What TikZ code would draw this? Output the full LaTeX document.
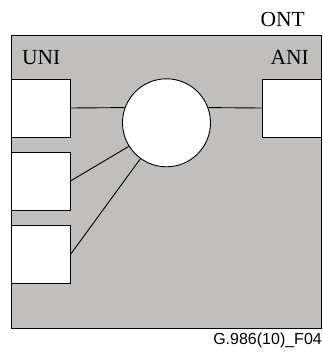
\documentclass[tikz,border=0pt]{standalone}
\usepackage{fontspec}
\setmainfont{Liberation Serif}
\setsansfont{Liberation Sans}
\definecolor{ontgray}{RGB}{192,191,190}

\begin{document}
\begin{tikzpicture}[x=1pt,y=-1pt,
  port/.style={draw,fill=white,line width=0.9pt,minimum width=59pt,minimum height=58pt,inner sep=0pt},
  lbl/.style={inner sep=0pt,font=\fontsize{21.5}{24}\selectfont}]
\useasboundingbox (0,0) rectangle (322,352);
\filldraw [fill=ontgray,line width=0.9pt] (11,35) rectangle (321,328);
\node [lbl,anchor=base east] (ont) at (305,27) {ONT};
\node [lbl,anchor=base west] (uni) at (22,65) {UNI};
\node [lbl,anchor=base east] (ani) at (309,65) {ANI};
\node [port] (U1) at (40.5,108) {};
\node [port] (U2) at (40.5,181) {};
\node [port] (U3) at (40.5,254.5) {};
\node [port] (A) at (291.5,108) {};
\node [draw,fill=white,circle,line width=0.9pt,minimum size=88pt,inner sep=0pt] (C) at (166.5,122.8) {};
\draw [line width=0.9pt](U1.east) -- (C.160);
\draw [line width=0.9pt](C.20) -- (A.west);
\draw [line width=0.9pt](U2.east) -- (C.212);
\draw [line width=0.9pt](U3.east) -- (C.234);
\node [inner sep=0pt,anchor=base east,font=\sffamily\fontsize{16}{18}\selectfont] (fig) at (322,344) {G.986(10)\_F04};

\end{tikzpicture}
\end{document}
